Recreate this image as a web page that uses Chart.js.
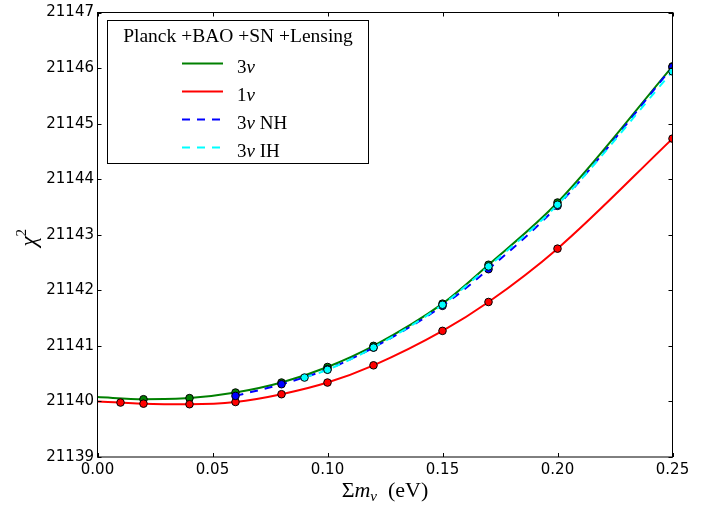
<!DOCTYPE html>
<html>
<head>
<meta charset="utf-8">
<script src="https://cdn.jsdelivr.net/npm/chart.js@4.4.1/dist/chart.umd.min.js"></script>
<style>
  html, body { margin: 0; padding: 0; background: #ffffff; }
  #wrap { width: 719px; height: 506px; position: relative; }
</style>
</head>
<body>
<div id="wrap"><canvas id="c" width="719" height="506"></canvas></div>
<script>
// ---- data ----
const xTickValues = [0.00, 0.05, 0.10, 0.15, 0.20, 0.25];
const yTickValues = [21139, 21140, 21141, 21142, 21143, 21144, 21145, 21146, 21147];

// 3 nu (first entry is the curve start, no marker)
const mass3nu = [0.00, 0.02, 0.04, 0.06, 0.08, 0.10, 0.12, 0.15, 0.17, 0.20, 0.25];
const chi3nu  = [21140.08, 21140.04, 21140.06, 21140.16, 21140.34, 21140.62, 21141.00, 21141.76, 21142.46, 21143.58, 21146.03];

// 1 nu (first entry is the curve start, no marker)
const mass1nu = [0.00, 0.01, 0.02, 0.04, 0.06, 0.08, 0.10, 0.12, 0.15, 0.17, 0.20, 0.25];
const chi1nu  = [21140.00, 21139.98, 21139.96, 21139.95, 21139.99, 21140.13, 21140.34, 21140.65, 21141.27, 21141.79, 21142.75, 21144.73];

// 3 nu NH
const mass3nuNH = [0.06, 0.08, 0.10, 0.12, 0.15, 0.17, 0.20, 0.25];
const chi3nuNH  = [21140.10, 21140.31, 21140.58, 21140.97, 21141.72, 21142.38, 21143.52, 21146.02];

// 3 nu IH
const mass3nuIH = [0.09, 0.10, 0.12, 0.15, 0.17, 0.20, 0.25];
const chi3nuIH  = [21140.43, 21140.57, 21140.97, 21141.74, 21142.43, 21143.54, 21145.94];

const legendTitle = 'Planck +BAO +SN +Lensing';

function pts(xs, ys) { return xs.map((x, i) => ({ x: x, y: ys[i] })); }

const SERIF = '"Liberation Serif", "DejaVu Serif", serif';

const datasets = [
  { label: '3ν', lab: ['3', 'ν', ''], data: pts(mass3nu, chi3nu), borderColor: '#008000', backgroundColor: '#008000',
    noMarkerFirst: true, dash: [], order: 4 },
  { label: '1ν', lab: ['1', 'ν', ''], data: pts(mass1nu, chi1nu), borderColor: '#ff0000', backgroundColor: '#ff0000',
    noMarkerFirst: true, dash: [], order: 3 },
  { label: '3ν NH', lab: ['3', 'ν', ' NH'], data: pts(mass3nuNH, chi3nuNH), borderColor: '#0000ff', backgroundColor: '#0000ff',
    noMarkerFirst: false, dash: [8, 7], order: 2 },
  { label: '3ν IH', lab: ['3', 'ν', ' IH'], data: pts(mass3nuIH, chi3nuIH), borderColor: '#00ffff', backgroundColor: '#00ffff',
    noMarkerFirst: false, dash: [8, 7], order: 1 }
].map(d => ({
  label: d.label,
  lab: d.lab,
  data: d.data,
  borderColor: d.borderColor,
  backgroundColor: d.backgroundColor,
  pointBackgroundColor: d.backgroundColor,
  pointBorderColor: '#000000',
  pointBorderWidth: 1,
  pointRadius: ctx => (d.noMarkerFirst && ctx.dataIndex === 0) ? 0 : 3.8,
  pointHoverRadius: 3.8,
  borderWidth: 2,
  borderDash: d.dash,
  cubicInterpolationMode: 'monotone',
  fill: false,
  clip: 0,
  order: d.order
}));

const framePlugin = {
  id: 'frame',
  afterDraw(chart) {
    const ctx = chart.ctx;
    const a = chart.chartArea;
    const xs = chart.scales.x, ys = chart.scales.y;
    ctx.save();
    ctx.strokeStyle = '#000000';
    ctx.lineWidth = 1;
    // frame
    ctx.strokeRect(a.left, a.top, a.right - a.left, a.bottom - a.top);
    // inward ticks
    const tl = 4;
    ctx.beginPath();
    xTickValues.forEach(v => {
      const px = Math.round(xs.getPixelForValue(v)) + 0.5;
      ctx.moveTo(px, a.bottom); ctx.lineTo(px, a.bottom - tl);
      ctx.moveTo(px, a.top); ctx.lineTo(px, a.top + tl);
    });
    yTickValues.forEach(v => {
      const py = Math.round(ys.getPixelForValue(v)) + 0.5;
      ctx.moveTo(a.left, py); ctx.lineTo(a.left + tl, py);
      ctx.moveTo(a.right, py); ctx.lineTo(a.right - tl, py);
    });
    ctx.stroke();

    // ---- legend ----
    const bx = 107.5, by = 20.5, bw = 261, bh = 143;
    ctx.fillStyle = '#ffffff';
    ctx.fillRect(bx, by, bw, bh);
    ctx.strokeRect(bx, by, bw, bh);
    ctx.fillStyle = '#000000';
    ctx.textBaseline = 'alphabetic';
    ctx.textAlign = 'center';
    ctx.font = '19.5px ' + SERIF;
    ctx.fillText(legendTitle, bx + bw / 2, 42);
    ctx.textAlign = 'left';
    const rowY = [63.5, 91.5, 119.5, 147.5];
    chart.data.datasets.forEach((ds, i) => {
      const y = rowY[i];
      ctx.save();
      ctx.strokeStyle = ds.borderColor;
      ctx.lineWidth = 2;
      ctx.setLineDash(ds.borderDash || []);
      ctx.beginPath();
      ctx.moveTo(182, y); ctx.lineTo(223, y);
      ctx.stroke();
      ctx.restore();
      let tx = 237;
      const base = y + 9;
      ctx.font = '19px ' + SERIF;
      ctx.fillText(ds.lab[0], tx, base); tx += ctx.measureText(ds.lab[0]).width;
      ctx.font = 'italic 19px ' + SERIF;
      ctx.fillText(ds.lab[1], tx, base); tx += ctx.measureText(ds.lab[1]).width;
      ctx.font = '19px ' + SERIF;
      ctx.fillText(ds.lab[2], tx, base);
    });

    // ---- x axis title: Σ m_ν (eV) ----
    const parts = [
      { t: 'Σ', f: '22px ' + SERIF, dy: 0 },
      { t: 'm', f: 'italic 22px ' + SERIF, dy: 0 },
      { t: 'ν', f: 'italic 15px ' + SERIF, dy: 4 },
      { t: '\u2002(eV)', f: '22px ' + SERIF, dy: 0 }
    ];
    let total = 0;
    parts.forEach(p => { ctx.font = p.f; p.w = ctx.measureText(p.t).width; total += p.w; });
    let x0 = (a.left + a.right) / 2 - total / 2;
    const xb = 497;
    parts.forEach(p => { ctx.font = p.f; ctx.fillText(p.t, x0, xb + p.dy); x0 += p.w; });

    // ---- y axis title: χ^2 ----
    ctx.save();
    ctx.translate(36, (a.top + a.bottom) / 2 + 3);
    ctx.rotate(-Math.PI / 2);
    const yp = [
      { t: 'χ', f: 'italic 23px ' + SERIF, dy: 0 },
      { t: '2', f: '15px ' + SERIF, dy: -10 }
    ];
    let tw = 0;
    yp.forEach(p => { ctx.font = p.f; p.w = ctx.measureText(p.t).width; tw += p.w; });
    let yx = -tw / 2;
    yp.forEach(p => { ctx.font = p.f; ctx.fillText(p.t, yx, p.dy); yx += p.w; });
    ctx.restore();

    ctx.restore();
  }
};

new Chart(document.getElementById('c'), {
  type: 'line',
  data: { datasets: datasets },
  options: {
    responsive: false,
    animation: false,
    events: [],
    layout: { padding: { left: 0, right: 46.5, top: 10, bottom: 0 } },
    plugins: { legend: { display: false }, tooltip: { enabled: false }, title: { display: false } },
    scales: {
      x: {
        type: 'linear', min: 0, max: 0.25,
        afterBuildTicks: s => { s.ticks = xTickValues.map(v => ({ value: v })); },
        afterFit: s => { s.height = 49; },
        grid: { display: false, drawTicks: false },
        border: { display: false },
        ticks: {
          padding: 4,
          color: '#000000',
          font: { family: '"DejaVu Sans", sans-serif', size: 15 },
          callback: v => Number(v).toFixed(2),
          maxRotation: 0, autoSkip: false
        }
      },
      y: {
        type: 'linear', min: 21139, max: 21147,
        afterBuildTicks: s => { s.ticks = yTickValues.map(v => ({ value: v })); },
        afterFit: s => { s.width = 97.5; },
        grid: { display: false, drawTicks: false },
        border: { display: false },
        ticks: {
          padding: 3.5,
          color: '#000000',
          font: { family: '"DejaVu Sans", sans-serif', size: 15 },
          callback: v => String(v),
          autoSkip: false
        }
      }
    }
  },
  plugins: [framePlugin]
});
</script>
</body>
</html>
